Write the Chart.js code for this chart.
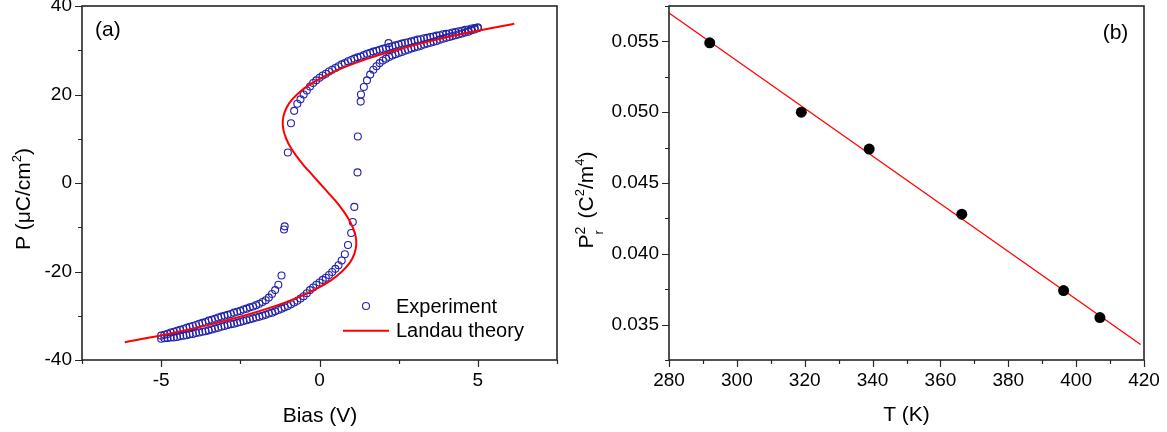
<!DOCTYPE html>
<html><head><meta charset="utf-8">
<script src="https://cdn.jsdelivr.net/npm/chart.js@4.4.1/dist/chart.umd.min.js"></script>
<style>
html,body{margin:0;padding:0;background:#fff;width:1167px;height:432px;overflow:hidden}
canvas{position:absolute;top:0}
#c1{left:0}
#c2{left:570px}
</style></head>
<body>
<canvas id="c1" width="570" height="432"></canvas>
<canvas id="c2" width="597" height="432"></canvas>
<script>
// ---------- Panel (a): P–V hysteresis ----------
const biasDown = [5.0,4.9,4.8,4.7,4.6,4.5,4.4,4.3,4.2,4.1,4.0,3.9,3.8,3.7,3.6,3.5,3.4,3.3,3.2,3.1,3.0,2.9,2.8,2.7,2.6,2.5,2.4,2.3,2.2,2.18,2.1,2.0,1.9,1.8,1.7,1.6,1.5,1.4,1.3,1.2,1.1,1.0,0.9,0.8,0.7,0.6,0.5,0.4,0.3,0.2,0.1,0.0,-0.1,-0.2,-0.3,-0.4,-0.5,-0.6,-0.7,-0.8,-0.9,-1.0,-1.1,-1.12,-1.2,-1.3,-1.4,-1.5,-1.6,-1.7,-1.8,-1.9,-2.0,-2.1,-2.2,-2.3,-2.4,-2.5,-2.6,-2.7,-2.8,-2.9,-3.0,-3.1,-3.2,-3.3,-3.4,-3.5,-3.6,-3.7,-3.8,-3.9,-4.0,-4.1,-4.2,-4.3,-4.4,-4.5,-4.6,-4.7,-4.8,-4.9,-5.0];
const polDown = [35.2,35.0,34.9,34.7,34.6,34.4,34.3,34.1,34.0,33.8,33.7,33.6,33.4,33.3,33.1,33.0,32.8,32.7,32.5,32.4,32.2,32.0,31.8,31.7,31.5,31.3,31.1,30.9,30.7,31.6,30.5,30.3,30.1,29.9,29.7,29.4,29.2,28.9,28.6,28.4,28.1,27.8,27.5,27.1,26.8,26.4,26.0,25.6,25.2,24.7,24.3,23.8,23.2,22.6,21.8,20.9,20.0,18.9,17.9,16.3,13.5,6.9,-9.8,-10.5,-20.9,-23.0,-24.2,-25.1,-25.9,-26.5,-26.9,-27.3,-27.6,-27.9,-28.1,-28.4,-28.6,-28.9,-29.1,-29.3,-29.6,-29.8,-30.0,-30.2,-30.4,-30.7,-30.9,-31.1,-31.4,-31.6,-31.8,-32.1,-32.3,-32.5,-32.7,-33.0,-33.2,-33.4,-33.6,-33.8,-34.1,-34.3,-34.5];
const biasUp = [-5.0,-4.9,-4.8,-4.7,-4.6,-4.5,-4.4,-4.3,-4.2,-4.1,-4.0,-3.9,-3.8,-3.7,-3.6,-3.5,-3.4,-3.3,-3.2,-3.1,-3.0,-2.9,-2.8,-2.7,-2.6,-2.5,-2.4,-2.3,-2.2,-2.1,-2.0,-1.9,-1.8,-1.7,-1.6,-1.5,-1.4,-1.3,-1.2,-1.1,-1.0,-0.9,-0.8,-0.7,-0.6,-0.5,-0.4,-0.3,-0.2,-0.1,0.0,0.1,0.2,0.3,0.4,0.5,0.6,0.7,0.8,0.9,1.0,1.05,1.1,1.2,1.21,1.3,1.31,1.4,1.5,1.6,1.7,1.8,1.9,2.0,2.1,2.2,2.3,2.4,2.5,2.6,2.7,2.8,2.9,3.0,3.1,3.2,3.3,3.4,3.5,3.6,3.7,3.8,3.9,4.0,4.1,4.2,4.3,4.4,4.5,4.6,4.7,4.8,4.9,5.0];
const polUp = [-35.2,-35.1,-35.0,-34.9,-34.9,-34.8,-34.6,-34.5,-34.4,-34.2,-34.1,-33.9,-33.8,-33.6,-33.5,-33.3,-33.1,-32.9,-32.7,-32.5,-32.3,-32.1,-31.9,-31.8,-31.6,-31.4,-31.2,-31.0,-30.8,-30.6,-30.4,-30.2,-30.0,-29.8,-29.5,-29.3,-29.0,-28.7,-28.4,-28.1,-27.8,-27.4,-27.0,-26.6,-26.1,-25.6,-24.9,-24.2,-23.6,-23.0,-22.5,-21.9,-21.4,-20.8,-20.1,-19.4,-18.6,-17.5,-16.1,-14.0,-11.3,-8.8,-5.4,2.4,10.5,18.4,20.0,21.7,23.2,24.5,25.6,26.4,27.1,27.7,28.1,28.5,28.8,29.1,29.4,29.6,29.9,30.1,30.4,30.6,30.8,31.0,31.3,31.5,31.7,31.9,32.1,32.4,32.6,32.8,33.0,33.2,33.4,33.6,33.8,34.0,34.2,34.5,34.7,35.0];
const landauP = [-36,-34,-32,-30,-28,-26,-24,-22,-20,-18,-16,-14,-12,-10,-8,-6,-4,-2,0,2,4,6,8,10,12,14,16,18,20,22,24,26,28,30,32,34,36];
const landauV = [-6.15,-4.71,-3.46,-2.39,-1.48,-0.73,-0.12,0.36,0.71,0.96,1.10,1.16,1.14,1.05,0.91,0.72,0.50,0.25,0,-0.25,-0.50,-0.72,-0.91,-1.05,-1.14,-1.16,-1.10,-0.96,-0.71,-0.36,0.12,0.73,1.48,2.39,3.46,4.71,6.15];

// ---------- Panel (b): Pr^2 vs T ----------
const tempK = [292, 319, 339, 366.3, 396.3, 407];
const pr2 = [0.0549, 0.0500, 0.0474, 0.0428, 0.0374, 0.0355];
const fitT = [280, 419];
const fitPr2 = [0.0570, 0.0336];

const FONT = '"Liberation Sans", Arial, Helvetica, sans-serif';
const BLUE = '#2222aa';
const INK = '#000';
const FRAME = '#262626';

const toPts = (xs, ys) => xs.map((x, i) => ({x: x, y: ys[i]}));

function drawRich(ctx, parts, x, y, rot, center) {
  ctx.save();
  ctx.translate(x, y);
  if (rot) ctx.rotate(rot);
  ctx.textBaseline = 'alphabetic';
  ctx.textAlign = 'left';
  ctx.fillStyle = INK;
  let w = 0;
  parts.forEach(p => {
    ctx.font = p.size + 'px ' + FONT;
    p.w = ctx.measureText(p.t).width;
    if (p.adv !== false) w += p.w;
  });
  let cx = center ? -w / 2 : 0;
  parts.forEach(p => {
    ctx.font = p.size + 'px ' + FONT;
    ctx.fillText(p.t, cx, p.dy || 0);
    if (p.adv !== false) cx += p.w;
  });
  ctx.restore();
}

const framePlugin = {
  id: 'frame',
  afterDraw(chart) {
    const ctx = chart.ctx, a = chart.chartArea;
    const xs = chart.scales.x, ys = chart.scales.y;
    ctx.save();
    ctx.strokeStyle = FRAME;
    ctx.lineWidth = 1.2;
    ctx.beginPath();
    xs.ticks.forEach(t => {
      const px = Math.round(xs.getPixelForValue(t.value)) + 0.5;
      const len = t.label ? 7 : 4;
      ctx.moveTo(px, a.bottom); ctx.lineTo(px, a.bottom + len);
    });
    ys.ticks.forEach(t => {
      const py = Math.round(ys.getPixelForValue(t.value)) + 0.5;
      const len = t.label ? 7 : 4;
      ctx.moveTo(a.left, py); ctx.lineTo(a.left - len, py);
    });
    ctx.stroke();
    ctx.lineWidth = 1.6;
    ctx.strokeRect(a.left, a.top, a.right - a.left, a.bottom - a.top);
    ctx.restore();
  }
};

const decoA = {
  id: 'decoA',
  afterDraw(chart) {
    const ctx = chart.ctx;
    drawRich(ctx, [
      {t: 'P (\u03BCC/cm', size: 21},
      {t: '2', size: 13, dy: -9},
      {t: ')', size: 21}
    ], 29.5, 199, -Math.PI / 2, true);
    drawRich(ctx, [{t: 'Bias (V)', size: 21}], 320, 421.5, 0, true);
    drawRich(ctx, [{t: '(a)', size: 21}], 95, 36, 0, false);
    ctx.save();
    ctx.strokeStyle = BLUE; ctx.lineWidth = 1.1;
    ctx.beginPath(); ctx.arc(366, 306, 3.5, 0, Math.PI * 2); ctx.stroke();
    ctx.strokeStyle = '#ff0000'; ctx.lineWidth = 2;
    ctx.beginPath(); ctx.moveTo(343, 330.7); ctx.lineTo(389, 330.7); ctx.stroke();
    ctx.restore();
    drawRich(ctx, [{t: 'Experiment', size: 20}], 396, 312.7, 0, false);
    drawRich(ctx, [{t: 'Landau theory', size: 20}], 396, 337.3, 0, false);
  }
};

const decoB = {
  id: 'decoB',
  afterDraw(chart) {
    const ctx = chart.ctx;
    drawRich(ctx, [
      {t: 'P', size: 21},
      {t: '2', size: 14, dy: -8, adv: false},
      {t: 'r', size: 13, dy: 10},
      {t: '  (C', size: 21},
      {t: '2', size: 13, dy: -9},
      {t: '/m', size: 21},
      {t: '4', size: 13, dy: -9},
      {t: ')', size: 21}
    ], 23, 200, -Math.PI / 2, true);
    drawRich(ctx, [{t: 'T (K)', size: 21}], 336.5, 421, 0, true);
    drawRich(ctx, [{t: '(b)', size: 21}], 532.7, 39, 0, false);
  }
};

const tickFont = {family: FONT, size: 19};
function fitX(s) { s.height = 72; s.paddingLeft = 0; s.paddingRight = 0; }
function fitYa(s) { s.width = 82; s.paddingTop = 0; s.paddingBottom = 0; }
function fitYb(s) { s.width = 99; s.paddingTop = 0; s.paddingBottom = 0; }

new Chart(document.getElementById('c1'), {
  type: 'scatter',
  data: {
    datasets: [
      {label: 'Landau theory', data: toPts(landauV, landauP), showLine: true,
       borderColor: '#ff0000', borderWidth: 2, pointRadius: 0, tension: 0.4, fill: false, order: 0},
      {label: 'Experiment', data: toPts(biasDown.concat(biasUp), polDown.concat(polUp)),
       pointStyle: 'circle', pointRadius: 3.5, borderColor: BLUE, backgroundColor: 'rgba(0,0,0,0)',
       borderWidth: 1.1, showLine: false, order: 1}
    ]
  },
  options: {
    responsive: false, animation: false, devicePixelRatio: 1,
    layout: {padding: {top: 6, right: 13, left: 0, bottom: 0}},
    plugins: {legend: {display: false}, tooltip: {enabled: false}},
    scales: {
      x: {type: 'linear', min: -7.5, max: 7.5, afterFit: fitX,
          grid: {display: false, drawTicks: true, tickLength: 7}, border: {display: false},
          ticks: {stepSize: 2.5, autoSkip: false, maxRotation: 0, padding: 2, color: INK, font: tickFont,
                  callback: v => (Math.abs(v) % 5 === 0 ? String(v) : '')}},
      y: {type: 'linear', min: -40, max: 40, afterFit: fitYa,
          grid: {display: false, drawTicks: true, tickLength: 7}, border: {display: false},
          ticks: {stepSize: 10, autoSkip: false, padding: 3, color: INK, font: tickFont,
                  callback: v => (v % 20 === 0 ? String(v) : '')}}
    }
  },
  plugins: [framePlugin, decoA]
});

new Chart(document.getElementById('c2'), {
  type: 'scatter',
  data: {
    datasets: [
      {label: 'fit', data: toPts(fitT, fitPr2), showLine: true, borderColor: '#ff0000',
       borderWidth: 1.3, pointRadius: 0, fill: false, order: 1},
      {label: 'data', data: toPts(tempK, pr2), pointStyle: 'circle', pointRadius: 5.5,
       backgroundColor: '#000', borderColor: '#000', borderWidth: 0, showLine: false, order: 0}
    ]
  },
  options: {
    responsive: false, animation: false, devicePixelRatio: 1,
    layout: {padding: {top: 6, right: 23, left: 0, bottom: 0}},
    plugins: {legend: {display: false}, tooltip: {enabled: false}},
    scales: {
      x: {type: 'linear', min: 280, max: 420, afterFit: fitX,
          grid: {display: false, drawTicks: true, tickLength: 7}, border: {display: false},
          ticks: {stepSize: 10, autoSkip: false, maxRotation: 0, padding: 2, color: INK, font: tickFont,
                  callback: v => (v % 20 === 0 ? String(v) : '')}},
      y: {type: 'linear', min: 0.0325, max: 0.0575, afterFit: fitYb,
          grid: {display: false, drawTicks: true, tickLength: 7}, border: {display: false},
          ticks: {stepSize: 0.0025, autoSkip: false, padding: 3, color: INK, font: tickFont,
                  callback: v => (Math.round(v * 10000) % 50 === 0 ? v.toFixed(3) : '')}}
    }
  },
  plugins: [framePlugin, decoB]
});
</script>
</body></html>
